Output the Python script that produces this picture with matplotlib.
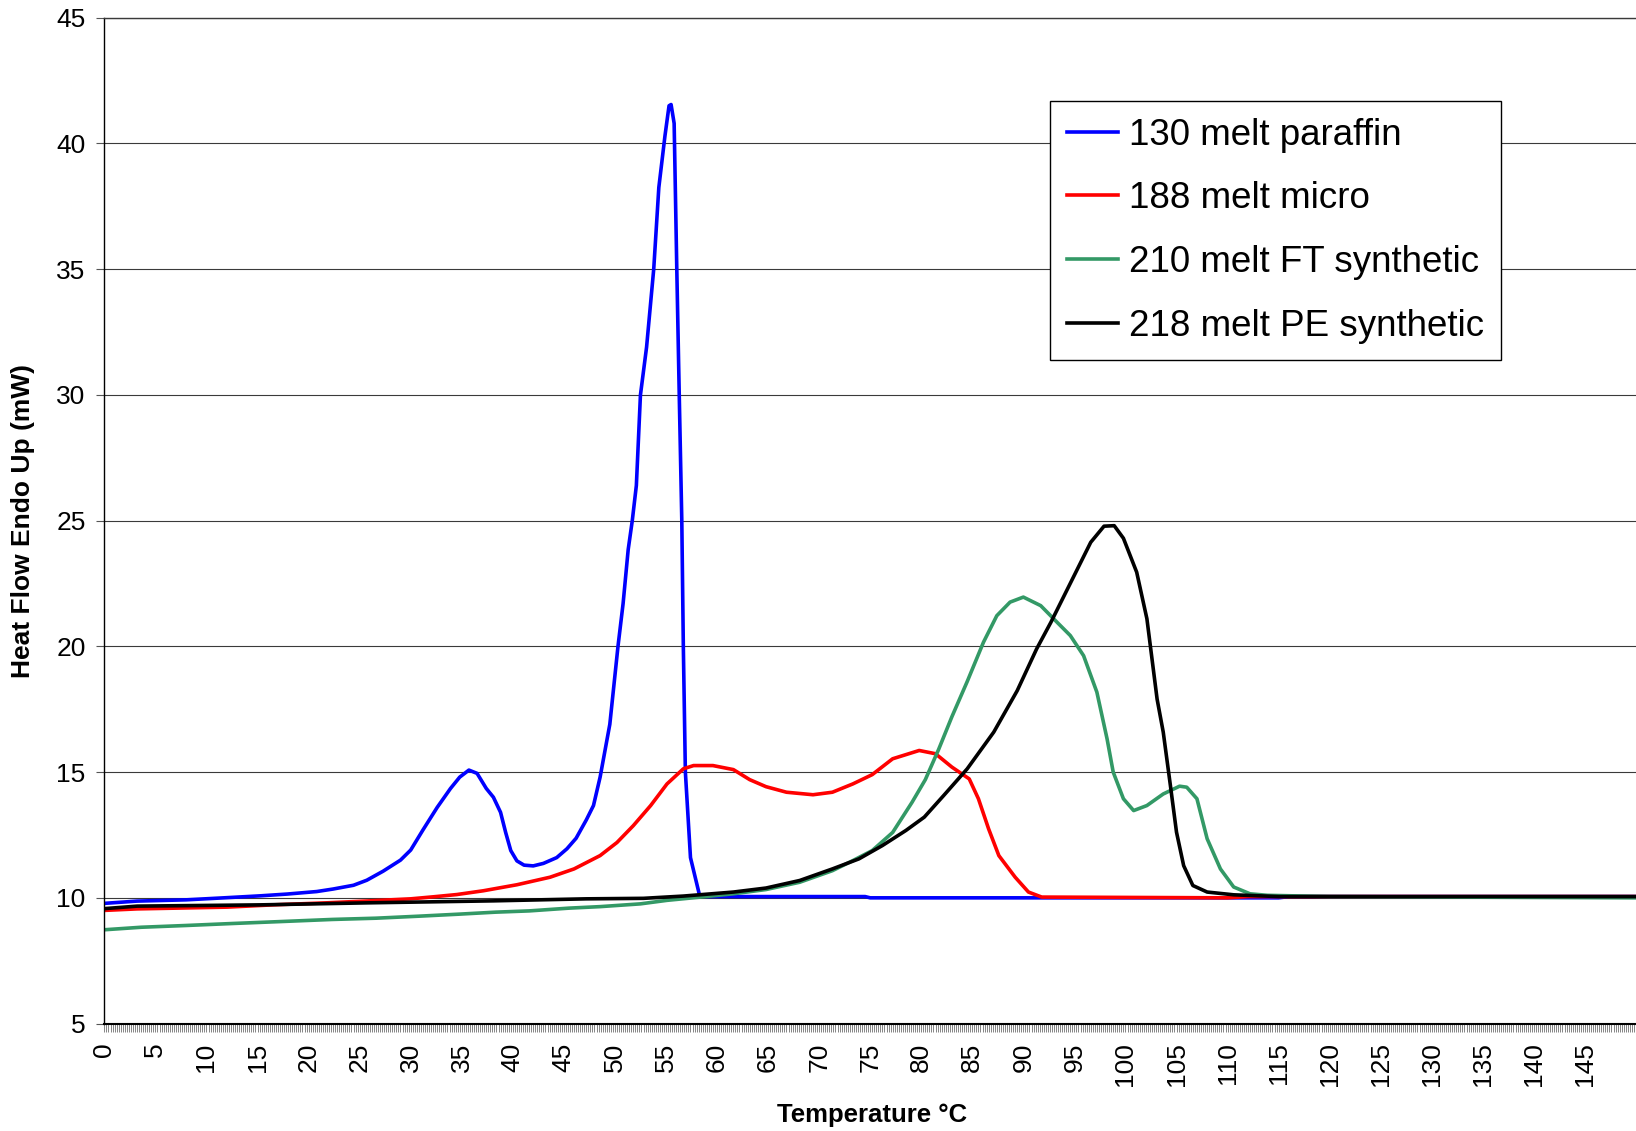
import numpy as np
import matplotlib
matplotlib.use('Agg')
import matplotlib.pyplot as plt
from matplotlib.ticker import MultipleLocator

plt.rcParams['font.family'] = ['Liberation Sans', 'DejaVu Sans']

# DSC melt curves (temperature in C, heat flow in mW)
paraffin_t = [0, 3.2, 8.0, 11.7, 15.3, 17.9, 20.8, 22.4, 24.4, 25.7, 27.3, 29.0, 30.0,
              31.2, 32.6, 33.9, 34.8, 35.7, 36.5, 37.4, 38.1, 38.8, 39.3, 39.8, 40.4,
              41.1, 42.0, 43.0, 44.3, 45.3, 46.2, 47.2, 47.9, 48.55, 49.5, 50.3, 50.8,
              51.3, 51.7, 52.1, 52.5, 53.1, 53.8, 54.3, 54.9, 55.3, 55.5, 55.8, 56.06,
              56.3, 56.55, 56.7, 56.9, 57.4, 58.3, 59.0, 74.5, 75.0, 115.0, 116.0, 150.0]
paraffin_hf = [9.78, 9.87, 9.92, 10.0, 10.08, 10.15, 10.25, 10.35, 10.5, 10.7, 11.06, 11.5, 11.9,
               12.7, 13.6, 14.35, 14.8, 15.08, 14.95, 14.35, 14.0, 13.4, 12.6, 11.88, 11.47,
               11.3, 11.27, 11.37, 11.6, 11.95, 12.37, 13.1, 13.67, 14.8, 16.9, 20.0, 21.7,
               23.85, 25.0, 26.4, 30.0, 31.9, 35.0, 38.25, 40.3, 41.5, 41.55, 40.8, 35.0,
               30.0, 25.0, 20.0, 15.0, 11.6, 10.08, 10.05, 10.05, 10.0, 10.0, 10.05, 10.05]

micro_t = [0, 3.2, 12.0, 16.5, 21.7, 26.0, 30.0, 32.2, 34.5, 37.1, 40.4, 43.65, 46.0,
           48.55, 50.2, 51.8, 53.5, 55.1, 56.7, 57.7, 59.6, 61.6, 63.2, 64.8, 66.8,
           69.4, 71.3, 73.3, 75.2, 77.2, 79.8, 81.4, 83.0, 84.7, 85.6, 86.6, 87.6,
           89.2, 90.5, 91.8, 110.0, 112.0, 150.0]
micro_hf = [9.5, 9.56, 9.63, 9.72, 9.8, 9.88, 9.96, 10.04, 10.13, 10.28, 10.52, 10.82, 11.15,
            11.68, 12.2, 12.87, 13.67, 14.53, 15.13, 15.26, 15.26, 15.1, 14.7, 14.42, 14.2,
            14.1, 14.2, 14.53, 14.9, 15.53, 15.86, 15.73, 15.2, 14.73, 13.94, 12.74, 11.68,
            10.82, 10.23, 10.03, 10.0, 10.05, 10.05]

ft_t = [0, 3.6, 8.0, 12.6, 17.5, 22.3, 26.6, 30.8, 34.7, 38.3, 41.6, 45.5, 48.55,
        52.5, 55.1, 58.4, 61.6, 64.8, 68.1, 71.3, 73.3, 75.2, 77.2, 79.1, 80.4,
        81.7, 83.0, 84.5, 86.1, 87.4, 88.7, 90.0, 91.7, 93.3, 94.6, 95.9, 97.2,
        98.2, 98.8, 99.8, 100.8, 102.1, 103.7, 105.3, 106.0, 107.0, 108.0, 109.3,
        110.6, 112.2, 113.9, 120.0, 150.0]
ft_hf = [8.73, 8.83, 8.9, 8.98, 9.06, 9.14, 9.19, 9.27, 9.35, 9.43, 9.48, 9.59, 9.65,
         9.76, 9.9, 10.03, 10.16, 10.33, 10.62, 11.08, 11.48, 11.88, 12.6, 13.8, 14.7,
         15.9, 17.2, 18.6, 20.17, 21.22, 21.76, 21.96, 21.62, 20.96, 20.43, 19.63, 18.18,
         16.32, 15.0, 13.94, 13.47, 13.67, 14.13, 14.44, 14.4, 13.94, 12.35, 11.15,
         10.43, 10.16, 10.1, 10.05, 10.0]

pe_t = [0, 3.2, 15.25, 25.7, 38.1, 47.2, 52.8, 56.7, 61.6, 64.8, 68.1, 71.3, 73.9,
        76.2, 78.5, 80.3, 82.2, 84.5, 87.1, 89.4, 91.3, 92.7, 94.0, 95.3, 96.6,
        97.9, 98.9, 99.8, 101.1, 102.1, 103.1, 103.7, 104.4, 105.0, 105.7, 106.6,
        108.0, 110.6, 115.0, 150.0]
pe_hf = [9.57, 9.67, 9.72, 9.8, 9.88, 9.96, 9.98, 10.07, 10.23, 10.39, 10.69, 11.15, 11.55,
         12.08, 12.68, 13.21, 14.07, 15.13, 16.59, 18.24, 19.9, 20.96, 22.02, 23.08, 24.14,
         24.78, 24.8, 24.3, 22.95, 21.1, 17.9, 16.59, 14.47, 12.61, 11.28, 10.49,
         10.23, 10.12, 10.05, 10.05]

series_names = ['130 melt paraffin', '188 melt micro', '210 melt FT synthetic', '218 melt PE synthetic']
series_colors = ['#0000ff', '#ff0000', '#339966', '#000000']


def plot_dsc():
    fig = plt.figure(figsize=(16.36, 11.31), dpi=100)
    ax = fig.add_axes([0.0638, 0.0950, 0.9362, 0.8893])

    curves = [(paraffin_t, paraffin_hf), (micro_t, micro_hf), (ft_t, ft_hf), (pe_t, pe_hf)]
    for (t, hf), name, col in zip(curves, series_names, series_colors):
        ax.plot(t, hf, color=col, lw=2.6, label=name, solid_joinstyle='round')

    ax.set_xlim(0, 150)
    ax.set_ylim(5, 45)

    # y axis + grid
    ax.yaxis.set_major_locator(MultipleLocator(5))
    ax.grid(axis='y', color='#3a3a3a', lw=0.8)
    ax.set_axisbelow(True)
    ax.tick_params(axis='y', direction='out', length=5.5, width=0.8, color='#555555',
                   labelsize=19, pad=8)

    # x axis: label every 5, dense category ticks underneath
    ax.set_xticks(np.arange(0, 150, 5))
    ax.set_xticklabels([str(v) for v in range(0, 150, 5)], rotation=90)
    ax.xaxis.set_minor_locator(MultipleLocator(0.2))
    ax.tick_params(axis='x', which='both', direction='out', length=5.5, width=0.5,
                   color='#555555', labelsize=19, pad=8)

    ax.spines['right'].set_visible(False)
    ax.spines['top'].set_color('#3a3a3a')
    ax.spines['top'].set_linewidth(1.0)
    ax.spines['left'].set_linewidth(1.0)
    ax.spines['bottom'].set_linewidth(1.5)

    fig.text(0.533, 0.0141, 'Temperature °C', fontsize=18.5, fontweight='bold',
             ha='center', va='center')
    fig.text(0.0141, 0.5394, 'Heat Flow Endo Up (mW)', fontsize=19, fontweight='bold',
             rotation=90, ha='center', va='center')

    leg = ax.legend(loc='upper left', bbox_to_anchor=(0.642, 0.9107),
                    bbox_transform=fig.transFigure, fontsize=26.5, frameon=True,
                    fancybox=False, framealpha=1, edgecolor='black', borderpad=0.45,
                    labelspacing=0.78, handlelength=1.4, handletextpad=0.3,
                    borderaxespad=0)
    leg.get_frame().set_linewidth(1.0)
    for line in leg.get_lines():
        line.set_linewidth(2.6)

    plt.savefig('out.png', dpi=100)


if __name__ == '__main__':
    plot_dsc()
